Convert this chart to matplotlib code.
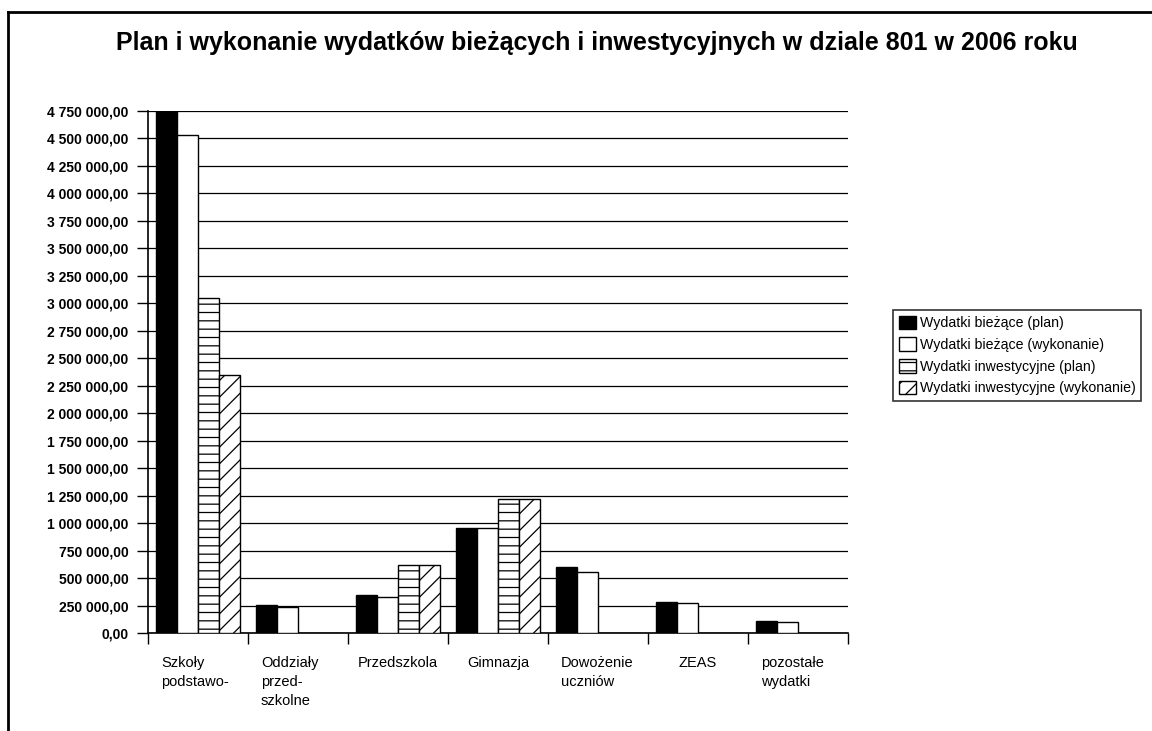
import matplotlib
matplotlib.use("Agg")
import matplotlib.pyplot as plt
import matplotlib.patches as mpatches
import matplotlib.ticker as mticker
from matplotlib.lines import Line2D
import numpy as np

plt.rcParams["font.family"] = ["Liberation Sans", "DejaVu Sans"]
plt.rcParams["hatch.linewidth"] = 0.9

# ── dane ───────────────────────────────────────────────
categories = ["Szkoły\npodstawo-", "Oddziały\nprzed-\nszkolne", "Przedszkola",
              "Gimnazja", "Dowożenie\nuczniów", "ZEAS", "pozostałe\nwydatki"]
biezace_plan = [4750000, 255000, 345000, 960000, 597000, 285000, 108000]
biezace_wyk  = [4535000, 240000, 330000, 955000, 558000, 272000, 104000]
inwest_plan  = [3045000, 0, 615000, 1215000, 0, 0, 0]
inwest_wyk   = [2345000, 0, 615000, 1220000, 0, 0, 0]

series_labels = ["Wydatki bieżące (plan)", "Wydatki bieżące (wykonanie)",
                 "Wydatki inwestycyjne (plan)", "Wydatki inwestycyjne (wykonanie)"]
series_styles = [
    dict(facecolor="black", hatch=None),
    dict(facecolor="white", hatch=None),
    dict(facecolor="white", hatch="--"),
    dict(facecolor="white", hatch="//"),
]


def pl_fmt(v, pos=None):
    s = f"{v:,.2f}"
    return s.replace(",", " ").replace(".", ",")


fig = plt.figure(figsize=(11.52, 7.31), dpi=100)
ax = fig.add_axes([148 / 1152, 1 - 633 / 731, 700 / 1152, 522 / 731])

x = np.arange(len(categories))
w = 0.21
all_series = [biezace_plan, biezace_wyk, inwest_plan, inwest_wyk]
handles = []
for i, (vals, style, lab) in enumerate(zip(all_series, series_styles, series_labels)):
    off = (i - 1.5) * w
    ax.bar(x + 0.5 + off, vals, width=w, edgecolor="black", linewidth=1.0,
           zorder=3, **style)
    handles.append(mpatches.Patch(edgecolor="black", linewidth=1.0, label=lab, **style))

ax.set_xlim(0, len(categories))
ax.set_ylim(0, 4750000)
ax.yaxis.set_major_locator(mticker.MultipleLocator(250000))
ax.yaxis.set_major_formatter(mticker.FuncFormatter(pl_fmt))
ax.grid(axis="y", color="black", linewidth=0.9, zorder=0)
ax.set_axisbelow(True)

ax.set_xticks(np.arange(len(categories) + 1))
ax.set_xticklabels([])
ax.tick_params(axis="x", direction="out", length=8, width=1, color="black")
ax.tick_params(axis="y", direction="out", length=8, width=1, color="black",
               labelsize=10, pad=6)
for t in ax.get_yticklabels():
    t.set_fontweight("bold")
for sp in ["top", "right"]:
    ax.spines[sp].set_visible(False)
for sp in ["left", "bottom"]:
    ax.spines[sp].set_linewidth(1.2)

# etykiety kategorii
for i, lab in enumerate(categories):
    if "\n" in lab:
        ax.text(i + 0.13, -0.045, lab, transform=ax.get_xaxis_transform(),
                ha="left", va="top", fontsize=10.5, linespacing=1.45)
    else:
        ax.text(i + 0.5, -0.045, lab, transform=ax.get_xaxis_transform(),
                ha="center", va="top", fontsize=10.5, linespacing=1.45)

fig.text(0.518, 0.941, "Plan i wykonanie wydatków bieżących i inwestycyjnych w dziale 801 w 2006 roku",
         ha="center", va="center", fontsize=18, fontweight="bold")

leg = fig.legend(handles=handles, loc="upper left", bbox_to_anchor=(893 / 1152, 1 - 310 / 731),
                 fontsize=10.2, frameon=True, fancybox=False, handlelength=1.2,
                 handleheight=1.1, handletextpad=0.3, borderpad=0.4, labelspacing=0.5,
                 borderaxespad=0)
leg.get_frame().set_edgecolor("black")
leg.get_frame().set_linewidth(1.2)

# ramka wykresu (lewa i górna krawędź)
fig.add_artist(Line2D([8 / 1152, 8 / 1152], [0, 1 - 12 / 731], color="black", linewidth=2))
fig.add_artist(Line2D([8 / 1152, 1], [1 - 12 / 731, 1 - 12 / 731], color="black", linewidth=2))

fig.savefig("out.png", dpi=100)
